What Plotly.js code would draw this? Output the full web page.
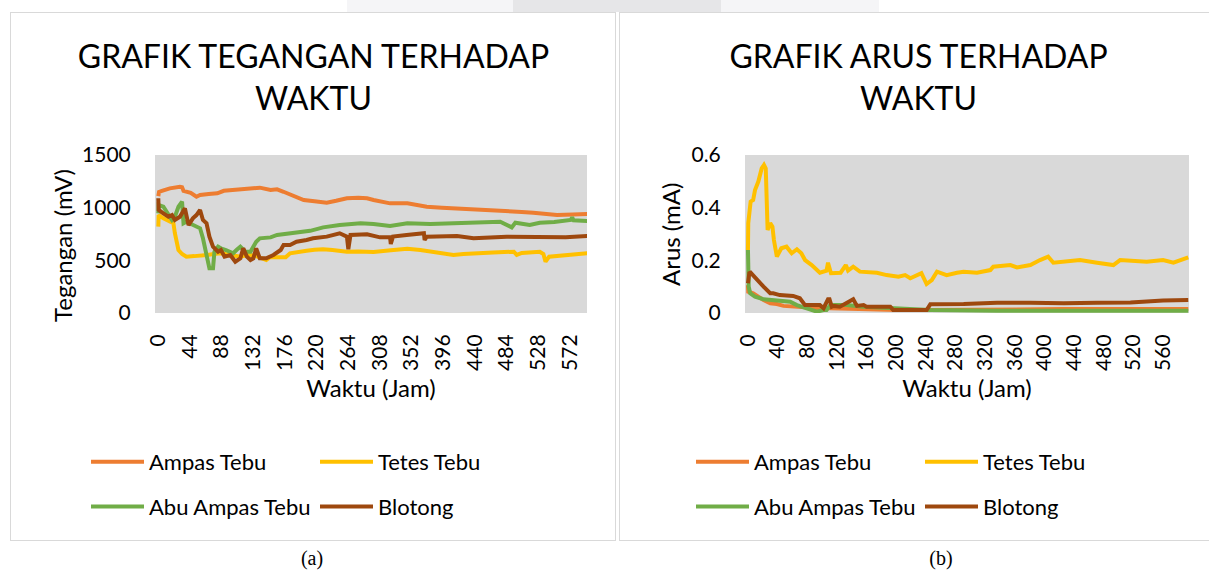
<!DOCTYPE html>
<html><head><meta charset="utf-8">
<script src="https://cdn.plot.ly/plotly-3.0.1.min.js"></script>
<style>
body{margin:0;width:1209px;height:570px;background:#fff;position:relative;overflow:hidden;font-family:Lato,sans-serif}
.wm1{position:absolute;left:347px;top:0;width:532px;height:12px;background:#f5f5f7}
.wm2{position:absolute;left:513px;top:0;width:208px;height:12px;background:#e6e6e8}
.box{position:absolute;top:12px;height:529px;border:1px solid #d9d9d9;box-sizing:border-box;background:#fff}
#boxA{left:10px;width:606px}
#boxB{left:619px;width:592px}
.plot{position:absolute;left:0;top:0}
.cap{position:absolute;top:548px;width:60px;text-align:center;font-family:'Liberation Serif',serif;font-size:20px;color:#000;line-height:20px}
</style></head>
<body>
<div class="wm1"></div><div class="wm2"></div>
<div class="box" id="boxA"><div class="plot" id="chartA"></div></div>
<div class="box" id="boxB"><div class="plot" id="chartB"></div></div>
<div class="cap" style="left:282px">(a)</div>
<div class="cap" style="left:911px">(b)</div>
<script>
// ---------- Data ----------
const seriesNames = ["Ampas Tebu", "Tetes Tebu", "Abu Ampas Tebu", "Blotong"];
const seriesColors = ["#ED7D31", "#FFC000", "#70AD47", "#9E480E"];

// Chart (a): Tegangan (mV) vs Waktu (Jam)
const ampasTebuV_jam = [0,1,5,16,30,33,35,45,53,58,70,82,91,104,114,126,141,156,165,174,187,202,217,234,247,262,278,290,299,311,322,346,359,373,394,415,439,461,485,505,521,536,554,576,596];
const ampasTebuV = [1110,1150,1160,1183,1199,1195,1160,1140,1104,1120,1130,1136,1160,1168,1175,1180,1190,1168,1174,1151,1110,1073,1060,1047,1065,1089,1095,1089,1073,1060,1041,1041,1025,1009,1000,994,985,978,970,960,952,940,930,935,940];

const tetesTebuV_jam = [0,0.5,7,14,21,23,28,33,39,50,59,68,77,86,93,100,107,114,121,128,136,143,150,155,160,177,183,192,206,217,229,242,262,278,299,323,346,364,379,392,410,424,439,465,494,498,505,530,535,538,543,556,568,581,596];
const tetesTebuV = [820,930,899,880,852,757,598,560,535,540,541,551,560,567,560,551,545,535,545,551,540,520,503,530,529,529,567,580,591,600,605,598,582,585,579,595,610,598,580,567,551,560,567,575,582,551,570,582,560,487,535,545,551,560,567];

const abuAmpasV_jam = [0,0.5,7,14,19,23,28,33,35,39,46,53,58,62,67,71,76,78,83,88,94,104,109,114,121,128,132,136,141,156,165,183,192,211,229,252,281,299,322,346,378,415,444,475,491,496,516,530,550,573,575,577,596];
const abuAmpasV = [946,1025,1009,930,883,914,1009,1057,852,867,840,819,804,709,535,424,424,582,630,610,598,567,600,630,582,582,630,677,709,718,741,757,762,780,813,835,852,845,826,852,845,857,860,867,813,857,835,857,865,883,908,880,873];

const blotongV_jam = [0,0.5,7,14,19,23,30,37,42,48,53,58,62,67,71,76,83,87,92,100,107,114,118,123,128,132,136,141,150,160,170,174,183,192,206,215,234,252,262,264,267,290,308,322,323,326,345,369,370,373,415,438,484,530,566,596];
const blotongV = [1089,978,946,914,930,883,914,994,835,899,930,978,883,852,725,630,582,598,535,551,487,519,614,535,503,519,614,519,519,551,598,646,646,677,693,709,725,757,725,605,741,747,718,718,655,725,741,757,693,725,731,709,725,718,720,731];

// Chart (b): Arus (mA) vs Waktu (Jam)
const ampasTebuI_jam = [0,0.4,7,16,21,30,39,48,61,66,88,97,111,156,201,246,336,426,594];
const ampasTebuI = [0.106,0.081,0.075,0.056,0.049,0.037,0.034,0.027,0.024,0.024,0.018,0.018,0.018,0.014,0.011,0.011,0.014,0.015,0.015];

const tetesTebuI_jam = [0,0.4,3.6,7,9.5,14,18.5,21.6,24,26.5,30,33,35,39,45,52,59,66,72,77,86,97,106,108,112,125,132,135,142,151,174,187,203,212,219,228,234,241,248,255,268,282,291,309,327,331,354,363,381,394,405,412,448,471,493,502,538,560,574,594];
const tetesTebuI = [0.239,0.341,0.423,0.429,0.467,0.499,0.549,0.562,0.549,0.315,0.341,0.328,0.277,0.214,0.246,0.252,0.227,0.242,0.227,0.201,0.182,0.153,0.161,0.191,0.151,0.153,0.182,0.161,0.176,0.157,0.153,0.144,0.138,0.144,0.132,0.144,0.151,0.110,0.125,0.157,0.144,0.153,0.157,0.153,0.163,0.176,0.182,0.173,0.182,0.201,0.214,0.191,0.201,0.191,0.182,0.201,0.195,0.201,0.191,0.211];

const abuAmpasI_jam = [0,0.5,1,3,9.5,21,30,43,52,57,66,79,93,102,106,111,133,156,178,201,246,336,426,594];
const abuAmpasI = [0.239,0.151,0.100,0.075,0.062,0.052,0.049,0.047,0.043,0.043,0.030,0.018,0.005,0.011,0.011,0.030,0.030,0.024,0.020,0.018,0.011,0.009,0.008,0.009];

const blotongI_jam = [0,1.8,3.6,12,16,21,30,34,43,61,70,72,77,79,97,102,108,110,113,115,124,142,147,156,160,192,196,241,246,291,336,381,426,471,516,560,594];
const blotongI = [0.113,0.151,0.153,0.125,0.113,0.100,0.075,0.075,0.068,0.065,0.056,0.049,0.030,0.030,0.030,0.018,0.052,0.052,0.024,0.027,0.024,0.052,0.027,0.030,0.024,0.024,0.011,0.011,0.033,0.034,0.039,0.039,0.037,0.039,0.040,0.047,0.049];

const ticksA = [0,44,88,132,176,220,264,308,352,396,440,484,528,572];
const ticksB = [0,40,80,120,160,200,240,280,320,360,400,440,480,520,560];
const yTicksA = [0,500,1000,1500];
const yTicksB = [0,0.2,0.4,0.6];
const yTickTextB = ["0","0.2","0.4","0.6"];

// ---------- Drawing ----------
const FONT = "Lato, 'Open Sans', sans-serif";
const legendOf = [ "legend", "legend2", "legend", "legend2" ];

function traces(xs, ys) {
  return xs.map((x, i) => ({
    type: "scatter", mode: "lines", x: x, y: ys[i], name: seriesNames[i],
    legend: legendOf[i], legendgroup: seriesNames[i],
    line: {color: seriesColors[i], width: 4, shape: "linear"},
    hoverinfo: "skip"
  }));
}

function legendCfg(xPx, yPx, W, H) {
  return {
    xref: "container", yref: "container", x: xPx / W, y: 1 - yPx / H,
    xanchor: "left", yanchor: "top", orientation: "v",
    font: {family: FONT, size: 22, color: "#000"},
    itemwidth: 53, tracegroupgap: 13, bgcolor: "rgba(0,0,0,0)",
    traceorder: "grouped"
  };
}

// yTitlePx: [x, y] centre of the vertical axis title in the chart's own pixels
function layout(W, H, m, title, titleX, xr, tv, yr, ytv, yttxt, ytitle, yTitlePx, legX1, legX2) {
  const pw = W - m.l - m.r, ph = H - m.t - m.b;
  return {
    width: W, height: H, margin: Object.assign({autoexpand: false}, m),
    paper_bgcolor: "#fff", plot_bgcolor: "#D9D9D9",
    font: {family: FONT, color: "#000"},
    title: {text: title, font: {family: FONT, size: 32, color: "#000"},
            xref: "container", x: titleX, xanchor: "center",
            yref: "container", y: 1 - 55 / H, yanchor: "top"},
    xaxis: {range: xr, tickmode: "array", tickvals: tv, tickangle: -90,
            ticks: "outside", ticklen: 12, tickcolor: "rgba(0,0,0,0)",
            showgrid: false, zeroline: false, showline: false, automargin: false,
            tickfont: {family: FONT, size: 21, color: "#000"},
            title: {text: "Waktu (Jam)", font: {family: FONT, size: 24, color: "#000"}, standoff: 10}},
    yaxis: {range: yr, tickmode: "array", tickvals: ytv, ticktext: yttxt,
            ticks: "outside", ticklen: 19, tickcolor: "rgba(0,0,0,0)",
            showgrid: false, zeroline: false, showline: false, automargin: false,
            tickfont: {family: FONT, size: 21, color: "#000"}},
    annotations: [{
      text: ytitle, textangle: -90, showarrow: false,
      xref: "paper", yref: "paper",
      x: (yTitlePx[0] - m.l) / pw, y: (H - m.b - yTitlePx[1]) / ph,
      xanchor: "center", yanchor: "middle",
      font: {family: FONT, size: 24, color: "#000"}
    }],
    showlegend: true,
    legend: legendCfg(legX1, 428, W, H),
    legend2: legendCfg(legX2, 428, W, H)
  };
}

const cfg = {staticPlot: true, displayModeBar: false};

Plotly.newPlot("chartA",
  traces([ampasTebuV_jam, tetesTebuV_jam, abuAmpasV_jam, blotongV_jam],
         [ampasTebuV, tetesTebuV, abuAmpasV, blotongV]),
  layout(604, 527, {l: 144, r: 28, t: 142, b: 227},
         "GRAFIK TEGANGAN TERHADAP<br>WAKTU", 0.5008,
         [-4.6, 595.6], ticksA, [0, 1500], yTicksA, yTicksA.map(String),
         "Tegangan (mV)", [51, 233], 75, 304),
  cfg);

Plotly.newPlot("chartB",
  traces([ampasTebuI_jam, tetesTebuI_jam, abuAmpasI_jam, blotongI_jam],
         [ampasTebuI, tetesTebuI, abuAmpasI, blotongI]),
  layout(590, 527, {l: 125, r: 21, t: 142, b: 227},
         "GRAFIK ARUS TERHADAP<br>WAKTU", 0.506,
         [-4, 595], ticksB, [0, 0.6], yTicksB, yTickTextB,
         "Arus (mA)", [50, 222], 71, 300),
  cfg);
</script>
</body></html>
